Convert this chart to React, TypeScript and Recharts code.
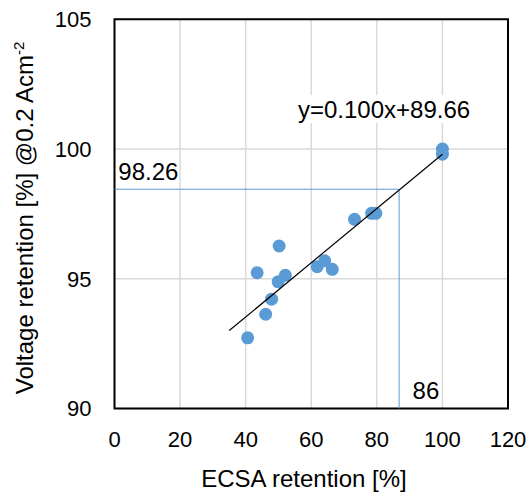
import React from 'react';
import {
  ScatterChart,
  Scatter,
  XAxis,
  YAxis,
  CartesianGrid,
  ReferenceLine,
  ReferenceArea,
  ReferenceDot,
} from 'recharts';

const ecsaRetention = [40.6, 43.5, 46.1, 47.9, 49.9, 50.2, 52.1, 61.8, 64.1, 66.4, 73.2, 78.4, 79.7, 100, 100];
const voltageRetention = [92.72, 95.23, 93.63, 94.21, 94.88, 96.26, 95.13, 95.46, 95.69, 95.36, 97.29, 97.52, 97.52, 100.0, 99.8];

// fitted line, end points
const fitX = [35, 100];
const fitY = [93.0, 99.8];

const xTicks = [0, 20, 40, 60, 80, 100, 120];
const yTicks = [90, 95, 100, 105];

const crossX = 86.8;
const crossY = 98.45;

const points = ecsaRetention.map((x, i) => ({ x, y: voltageRetention[i] }));
const fitLine = fitX.map((x, i) => ({ x, y: fitY[i] }));

const FONT = '"Liberation Sans", Arial, sans-serif';
const BLUE = '#5B9BD5';

function TextMark({ cx, cy, text, anchor, bg }: any) {
  const w = text.length * 12.4;
  const left = anchor === 'middle' ? cx - w / 2 : cx;
  return (
    <g>
      {bg && <rect x={left - 3} y={cy - 14} width={w + 6} height={28} fill="#fff" />}
      <text x={cx} y={cy} dy="0.355em" textAnchor={anchor} fontSize={24} fill="#000" fontFamily={FONT}>
        {text}
      </text>
    </g>
  );
}

export default function App() {
  return (
    <div style={{ position: 'absolute', left: 0, top: 0, background: '#fff' }}>
      <ScatterChart
        width={530}
        height={496}
        margin={{ top: 19.3, right: 22, left: 54.5, bottom: 27.6 }}
        style={{ fontFamily: FONT }}
      >
        <CartesianGrid stroke="#d9d9d9" strokeWidth={1.5} />
        <XAxis
          type="number"
          dataKey="x"
          domain={[0, 120]}
          ticks={xTicks}
          height={60}
          tickSize={0}
          tickMargin={23}
          axisLine={false}
          tick={{ fontSize: 22, fill: '#000', fontFamily: FONT }}
          label={() => (
            <text x={304} y={478} dy="0.355em" textAnchor="middle" fontSize={24} fill="#000" fontFamily={FONT}>
              ECSA retention [%]
            </text>
          )}
        />
        <YAxis
          type="number"
          dataKey="y"
          domain={[90, 105]}
          ticks={yTicks}
          width={60}
          tickSize={0}
          tickMargin={23}
          axisLine={false}
          tick={{ fontSize: 22, fill: '#000', fontFamily: FONT }}
          label={() => (
            <text
              x={24}
              y={218}
              dy="0.355em"
              textAnchor="middle"
              transform="rotate(-90, 24, 218)"
              fontSize={24}
              fill="#000"
              fontFamily={FONT}
            >
              Voltage retention [%] @0.2 Acm
              <tspan dy={-9} fontSize={15}>-2</tspan>
            </text>
          )}
        />
        <ReferenceLine
          segment={[{ x: 0, y: crossY }, { x: crossX, y: crossY }]}
          stroke={BLUE}
          strokeWidth={1}
        />
        <ReferenceLine
          segment={[{ x: crossX, y: 90 }, { x: crossX, y: crossY }]}
          stroke={BLUE}
          strokeWidth={1}
        />
        <Scatter data={points} fill={BLUE} isAnimationActive={false} shape={(p: any) => <circle cx={p.cx} cy={p.cy} r={6.5} fill={BLUE} />} />
        <Scatter
          data={fitLine}
          line={{ stroke: '#000', strokeWidth: 1.2 }}
          shape={() => <g />}
          isAnimationActive={false}
        />
        <ReferenceDot x={82.2} y={101.54} r={0} shape={(p: any) => <TextMark cx={p.cx} cy={p.cy} text="y=0.100x+89.66" anchor="middle" bg />} />
        <ReferenceDot x={1.16} y={99.12} r={0} shape={(p: any) => <TextMark cx={p.cx} cy={p.cy} text="98.26" anchor="start" />} />
        <ReferenceDot x={90.9} y={90.7} r={0} shape={(p: any) => <TextMark cx={p.cx} cy={p.cy} text="86" anchor="start" />} />
        <ReferenceArea x1={0} x2={120} y1={90} y2={105} fill="none" stroke="#000" strokeWidth={2} />
      </ScatterChart>
    </div>
  );
}
